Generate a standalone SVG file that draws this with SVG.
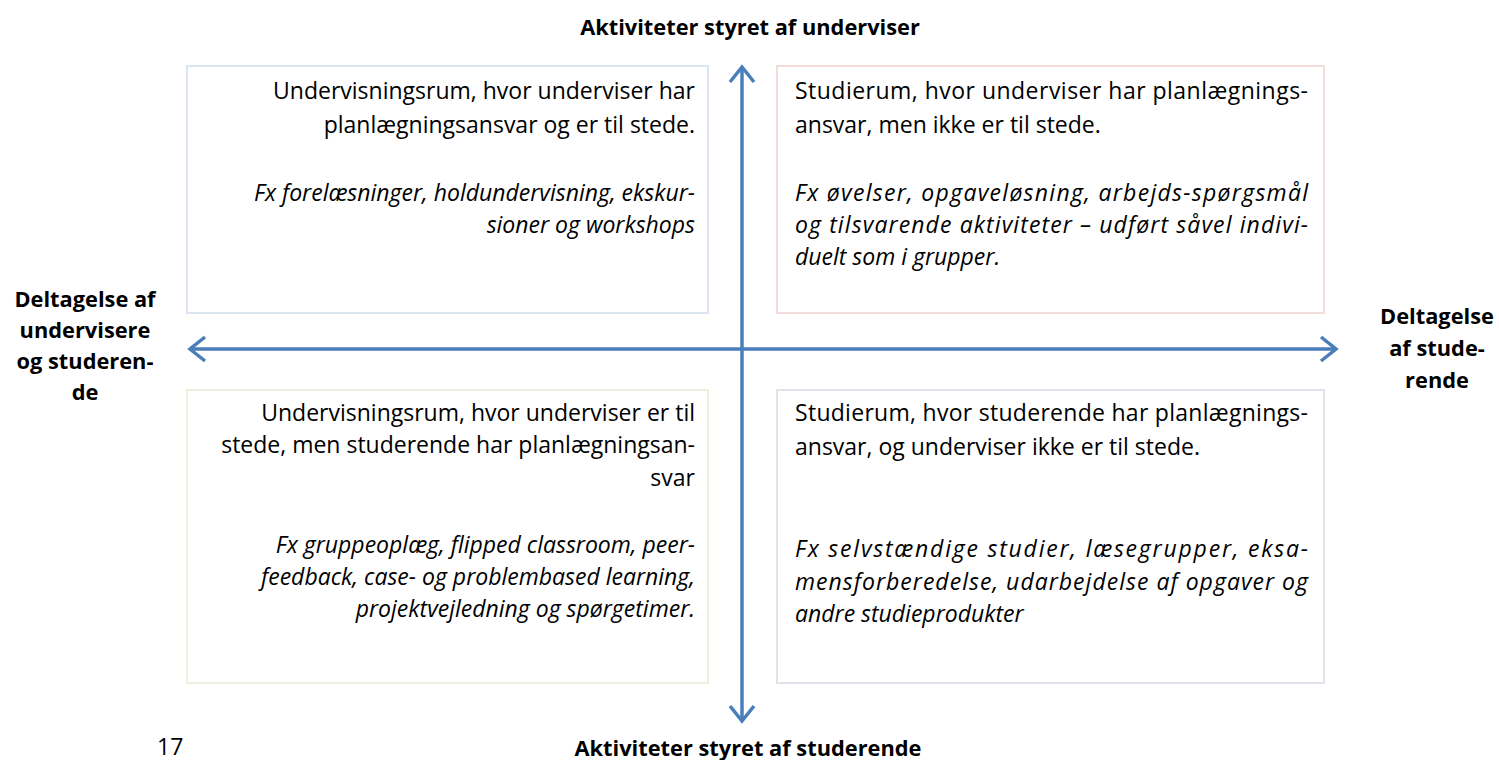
<svg xmlns="http://www.w3.org/2000/svg" width="1499" height="760" viewBox="0 0 1499 760">
<style>
.t{font-family:"Open Sans","Liberation Sans",sans-serif;font-size:23px;fill:#000}
.i{font-style:italic}
.b{font-family:"Open Sans","Liberation Sans",sans-serif;font-size:21.8px;font-weight:bold;fill:#000}
.r{text-anchor:end}
.c{text-anchor:middle}
.ax{stroke:#4a7ebb;stroke-width:3.5;fill:none}
</style>
<rect width="1499" height="760" fill="#fff"/>
<g id="box-tl">
<rect x="187" y="66" width="521" height="247" fill="#fff" stroke="#dce6f2" stroke-width="2"/>
<text class="t r" x="695" y="99">Undervisningsrum, hvor underviser har</text>
<text class="t r" x="695" y="133">planlægningsansvar og er til stede.</text>
<text class="t i r" x="695" y="201">Fx forelæsninger, holdundervisning, ekskur-</text>
<text class="t i r" x="695" y="233">sioner og workshops</text>
</g>
<g id="box-tr">
<rect x="777" y="66" width="547" height="247" fill="#fff" stroke="#f2dcdb" stroke-width="2"/>
<text class="t" x="795" y="99" textLength="513" lengthAdjust="spacing">Studierum, hvor underviser har planlægnings-</text>
<text class="t" x="795" y="133">ansvar, men ikke er til stede.</text>
<text class="t i" x="795" y="201" textLength="513" lengthAdjust="spacing">Fx øvelser, opgaveløsning, arbejds-spørgsmål</text>
<text class="t i" x="795" y="233" textLength="513" lengthAdjust="spacing">og tilsvarende aktiviteter – udført såvel indivi-</text>
<text class="t i" x="795" y="265">duelt som i grupper.</text>
</g>
<g id="box-bl">
<rect x="187" y="390" width="521" height="293" fill="#fff" stroke="#ebf1de" stroke-width="2"/>
<text class="t r" x="695" y="421">Undervisningsrum, hvor underviser er til</text>
<text class="t r" x="695" y="453">stede, men studerende har planlægningsan-</text>
<text class="t r" x="695" y="486">svar</text>
<text class="t i r" x="695" y="553">Fx gruppeoplæg, flipped classroom, peer-</text>
<text class="t i r" x="695" y="585">feedback, case- og problembased learning,</text>
<text class="t i r" x="695" y="617">projektvejledning og spørgetimer.</text>
</g>
<g id="box-br">
<rect x="777" y="390" width="547" height="293" fill="#fff" stroke="#e6e0ec" stroke-width="2"/>
<text class="t" x="795" y="421" textLength="513" lengthAdjust="spacing">Studierum, hvor studerende har planlægnings-</text>
<text class="t" x="795" y="455">ansvar, og underviser ikke er til stede.</text>
<text class="t i" x="795" y="557" textLength="513" lengthAdjust="spacing">Fx selvstændige studier, læsegrupper, eksa-</text>
<text class="t i" x="795" y="590" textLength="513" lengthAdjust="spacing">mensforberedelse, udarbejdelse af opgaver og</text>
<text class="t i" x="795" y="622">andre studieprodukter</text>
</g>
<g id="connectors">
<line class="ax" x1="742" y1="68" x2="742" y2="720"/>
<polyline class="ax" points="730,82 742,67 754,82"/>
<polyline class="ax" points="730,706 742,721 754,706"/>
<line class="ax" x1="190" y1="349" x2="1336" y2="349"/>
<polyline class="ax" points="205,337 190,349 205,361"/>
<polyline class="ax" points="1321,337 1336,349 1321,361"/>
</g>
<g id="label-top"><text class="b c" x="750" y="35">Aktiviteter styret af underviser</text></g>
<g id="label-bottom"><text class="b c" x="748" y="756">Aktiviteter styret af studerende</text></g>
<g id="label-left">
<text class="b c" x="85" y="307">Deltagelse af</text>
<text class="b c" x="85" y="338">undervisere</text>
<text class="b c" x="85" y="369">og studeren-</text>
<text class="b c" x="85" y="400">de</text>
</g>
<g id="label-right">
<text class="b c" x="1437" y="324">Deltagelse</text>
<text class="b c" x="1437" y="356">af stude-</text>
<text class="b c" x="1437" y="388">rende</text>
</g>
<g id="page"><text class="t" x="157" y="755" style="font-size:23px">17</text></g>
</svg>
